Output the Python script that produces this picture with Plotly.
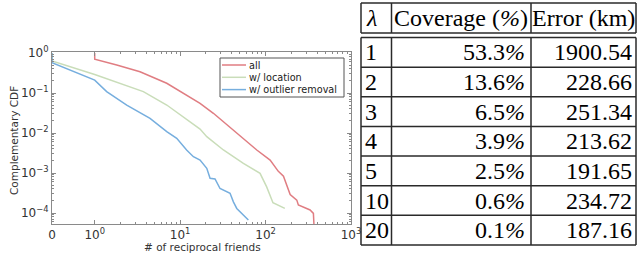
import math
import plotly.graph_objects as go

# ---------------- data ----------------
all_x = [1, 1, 1.81, 3.39, 6.97, 10.8, 17.1, 24.5, 46.0, 78.9, 113, 141, 162, 174, 194, 232, 242, 332, 363, 373]
all_y = [1.0, 0.70, 0.50, 0.341, 0.175, 0.098, 0.0553, 0.0311, 0.0098, 0.00376, 0.00211, 0.00110,
         0.00083, 0.00055, 0.00029, 0.00021, 0.000158, 0.000119, 0.000098, 0.00003]

loc_x = [0, 0, 1, 1.98, 3.71, 6.97, 10.8, 17.1, 20.5, 32.1, 55.0, 86.2, 103, 113, 122, 168]
loc_y = [1.0, 0.63, 0.29, 0.175, 0.108, 0.0501, 0.0256, 0.0125, 0.0081, 0.00376, 0.00175, 0.00098,
         0.00045, 0.00026, 0.00018, 0.00013]

out_x = [0, 0, 1, 1.38, 2.37, 4.44, 6.97, 9.12, 11.9, 14.3, 17.1, 20.5, 22.4, 25.6, 29.3, 38.4, 42.0, 46.0, 62.9]
out_y = [1.0, 0.57, 0.21, 0.108, 0.050, 0.0233, 0.0108, 0.00737, 0.00376, 0.00256, 0.00211, 0.00131,
         0.00074, 0.00071, 0.00041, 0.00031, 0.00019, 0.00013, 0.000067]

series_names = ["all", "w/ location", "w/ outlier removal"]

x_tick_values = [0, 1, 10, 100, 1000]
x_tick_labels = ["0", "10<sup>0</sup>", "10<sup>1</sup>", "10<sup>2</sup>", "10<sup>3</sup>"]
y_tick_values = [1, 0.1, 0.01, 0.001, 0.0001]
y_tick_labels = ["10<sup>0</sup>", "10<sup>−1</sup>", "10<sup>−2</sup>", "10<sup>−3</sup>", "10<sup>−4</sup>"]

table_header = ["<i>λ</i>", "Coverage (<i>%</i>)", "Error (km)"]
table_lambda = ["1", "2", "3", "4", "5", "10", "20"]
table_coverage = ["53.3", "13.6", "6.5", "3.9", "2.5", "0.6", "0.1"]
table_error = ["1900.54", "228.66", "251.34", "213.62", "191.65", "234.72", "187.16"]


# symlog-like transform (linear 0..1 occupies half a decade)
def symlog(v):
    return v / 2.0 if v <= 1 else 0.5 + math.log10(v)


colors = ["#e07d82", "#c9ddb9", "#76aede"]

fig = go.Figure()
for name, xs, ys, c in zip(series_names, [all_x, loc_x, out_x], [all_y, loc_y, out_y], colors):
    fig.add_trace(go.Scatter(x=[symlog(v) for v in xs], y=ys, mode="lines", name=name,
                             line=dict(color=c, width=1.5), showlegend=False))

W, H = 637, 254
L, R, T, B = 52, 351, 52, 224


def px(xp):
    return (xp - L) / (R - L)


def py(yp):
    return (B - yp) / (B - T)


minor_x = [symlog(k * 10 ** n) for n in range(0, 3) for k in range(2, 10)]
minor_y = [k * 10.0 ** n for n in range(-5, 0) for k in range(2, 10)]

axcol = "#8a8a8a"
fig.update_xaxes(range=[0, 3.5], tickvals=[symlog(v) for v in x_tick_values], ticktext=x_tick_labels,
                 ticks="inside", ticklen=4, tickcolor=axcol, showline=True, linecolor=axcol, linewidth=1,
                 mirror="allticks", showgrid=False, zeroline=False, automargin=False,
                 tickfont=dict(family="DejaVu Sans", size=12, color="#333"),
                 minor=dict(tickvals=minor_x, ticks="inside", ticklen=2, tickcolor=axcol))
fig.update_yaxes(type="log", range=[-4.275, 0.025], tickvals=y_tick_values, ticktext=y_tick_labels,
                 ticks="inside", ticklen=4, tickcolor=axcol, showline=True, linecolor=axcol, linewidth=1,
                 mirror="allticks", showgrid=False, zeroline=False, automargin=False,
                 tickfont=dict(family="DejaVu Sans", size=12, color="#333"),
                 minor=dict(tickvals=minor_y, ticks="inside", ticklen=2, tickcolor=axcol))

annotations = [
    dict(text="# of reciprocal friends", x=px(202), y=py(247), xref="paper", yref="paper",
         showarrow=False, font=dict(family="DejaVu Sans", size=10.5, color="#333"),
         xanchor="center", yanchor="middle"),
    dict(text="Complementary CDF", x=px(14), y=py(141), xref="paper", yref="paper", textangle=-90,
         showarrow=False, font=dict(family="DejaVu Sans", size=10.5, color="#333"),
         xanchor="center", yanchor="middle"),
]

shapes = []

# ---- manual legend ----
leg_x0, leg_x1, leg_y0, leg_y1 = 220, 344, 58, 97
shapes.append(dict(type="rect", xref="paper", yref="paper", x0=px(leg_x0), x1=px(leg_x1),
                   y0=py(leg_y0), y1=py(leg_y1), line=dict(color="#555", width=1), fillcolor="white",
                   layer="above"))
for i, (name, c) in enumerate(zip(series_names, colors)):
    yy = 65 + i * 12.3
    shapes.append(dict(type="line", xref="paper", yref="paper", x0=px(222), x1=px(246), y0=py(yy), y1=py(yy),
                       line=dict(color=c, width=1.5), layer="above"))
    annotations.append(dict(text=name, x=px(247), y=py(yy), xref="paper", yref="paper", showarrow=False,
                            font=dict(family="DejaVu Sans", size=9.7, color="#222"),
                            xanchor="left", yanchor="middle"))

# ---- table ----
tcol = "#2a2a2a"
tw = 1.5
col_x = [361, 391.5, 531, 636]
head_top, head_bot = 3, 33
body_top, body_bot = 37.5, 245
nrows = len(table_lambda)
rh = (body_bot - body_top) / nrows


def hline(x0, x1, y):
    shapes.append(dict(type="line", xref="paper", yref="paper", x0=px(x0), x1=px(x1), y0=py(y), y1=py(y),
                       line=dict(color=tcol, width=tw)))


def vline(x, y0, y1):
    shapes.append(dict(type="line", xref="paper", yref="paper", x0=px(x), x1=px(x), y0=py(y0), y1=py(y1),
                       line=dict(color=tcol, width=tw)))


hline(col_x[0], col_x[-1], head_top)
hline(col_x[0], col_x[-1], head_bot)
for i in range(nrows + 1):
    hline(col_x[0], col_x[-1], body_top + i * rh)
for xv in col_x:
    vline(xv, head_top, head_bot)
    vline(xv, body_top, body_bot)

tfont = dict(family="Liberation Serif", size=24, color="black")
hc = (head_top + head_bot) / 2
annotations.append(dict(text=table_header[0], x=px(364), y=py(hc), xref="paper", yref="paper",
                        showarrow=False, font=tfont, xanchor="left", yanchor="middle"))
annotations.append(dict(text=table_header[1], x=px((col_x[1] + col_x[2]) / 2), y=py(hc), xref="paper",
                        yref="paper", showarrow=False, font=tfont, xanchor="center", yanchor="middle"))
annotations.append(dict(text=table_header[2], x=px((col_x[2] + col_x[3]) / 2), y=py(hc), xref="paper",
                        yref="paper", showarrow=False, font=tfont, xanchor="center", yanchor="middle"))
for i in range(nrows):
    yc = body_top + (i + 0.5) * rh
    annotations.append(dict(text=table_lambda[i], x=px(363), y=py(yc), xref="paper", yref="paper",
                            showarrow=False, font=tfont, xanchor="left", yanchor="middle"))
    annotations.append(dict(text=table_coverage[i] + "<i>%</i>", x=px(527), y=py(yc), xref="paper",
                            yref="paper", showarrow=False, font=tfont, xanchor="right", yanchor="middle"))
    annotations.append(dict(text=table_error[i], x=px(634), y=py(yc), xref="paper", yref="paper",
                            showarrow=False, font=tfont, xanchor="right", yanchor="middle"))

fig.update_layout(
    width=W, height=H, margin=dict(l=L, r=W - R, t=T, b=H - B, pad=0, autoexpand=False),
    paper_bgcolor="white", plot_bgcolor="white",
    showlegend=False,
    annotations=annotations, shapes=shapes,
)

fig.write_html("out.html", config={"displayModeBar": False},
               post_script="document.body.style.margin='0';document.body.style.overflow='hidden';")
